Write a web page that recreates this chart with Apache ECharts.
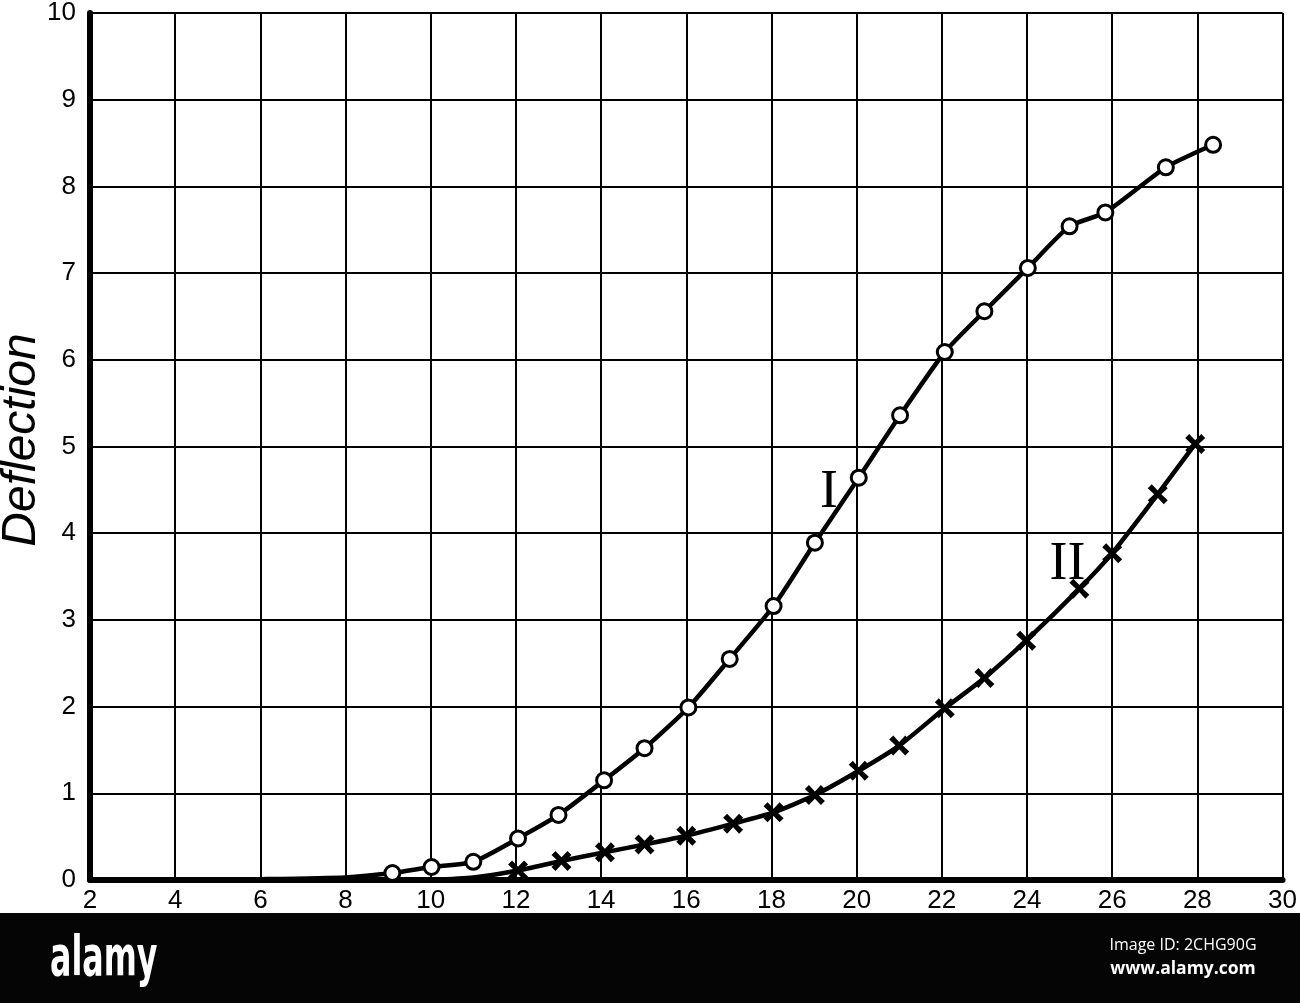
<!DOCTYPE html>
<html>
<head>
<meta charset="utf-8">
<script src="https://cdn.jsdelivr.net/npm/echarts@6/dist/echarts.min.js"></script>
<style>
html,body{margin:0;padding:0;background:#fff;}
#chart{width:1300px;height:1003px;}
</style>
</head>
<body>
<div id="chart"></div>
<script>
// Curve I (circles): [x, deflection]; lead-in points without markers
var leadI = [[2, 0.0], [4, 0.0], [6, 0.01], [8, 0.03]];
var curveI = [[9.1, 0.08], [10.02, 0.15], [11.0, 0.21], [12.05, 0.48], [13.0, 0.75], [14.07, 1.15],
  [15.02, 1.52], [16.05, 1.99], [17.02, 2.55], [18.05, 3.16], [19.02, 3.89], [20.05, 4.64],
  [21.02, 5.36], [22.07, 6.09], [23.0, 6.56], [24.02, 7.06], [25.0, 7.54], [25.84, 7.70],
  [27.26, 8.22], [28.37, 8.48]];
// Curve II (crosses)
var leadII = [[10, 0.0], [11, 0.03]];
var curveII = [[12.05, 0.11], [13.07, 0.22], [14.09, 0.32], [15.02, 0.41], [16.0, 0.51], [17.1, 0.65],
  [18.05, 0.78], [19.02, 0.98], [20.05, 1.26], [21.0, 1.55], [22.07, 1.98], [23.0, 2.33],
  [23.98, 2.76], [25.23, 3.36], [26.0, 3.77], [27.07, 4.45], [27.95, 5.03]];
var curveLabels = [{name: 'I', coord: [19.35, 4.47]}, {name: 'II', coord: [24.95, 3.64]}];
var yTitle = 'Deflection';

function buildData(lead, pts) {
  return lead.map(function (p) { return {value: p, symbol: 'none'}; })
    .concat(pts.map(function (p) { return {value: p}; }));
}

var crossPath = 'path://M2,0 L5,3.2 L8,0 L10,2 L6.8,5 L10,8 L8,10 L5,6.8 L2,10 L0,8 L3.2,5 L0,2 Z';

var chart = echarts.init(document.getElementById('chart'));
chart.setOption({
  animation: false,
  backgroundColor: '#ffffff',
  grid: {left: 90, top: 10, width: 1204, height: 870},
  xAxis: {
    type: 'value', min: 2, max: 30, interval: 2,
    axisLine: {show: true, lineStyle: {color: '#000', width: 6}},
    axisTick: {show: false},
    axisLabel: {color: '#000', fontSize: 26, fontFamily: 'Liberation Sans', margin: 8},
    splitLine: {show: true, lineStyle: {color: '#000', width: 2}}
  },
  yAxis: {
    type: 'value', min: 0, max: 10, interval: 1,
    axisLine: {show: true, lineStyle: {color: '#000', width: 6}},
    axisTick: {show: false},
    axisLabel: {color: '#000', fontSize: 26, fontFamily: 'Liberation Sans', margin: 14},
    splitLine: {show: true, lineStyle: {color: '#000', width: 2}}
  },
  series: [
    {
      type: 'line', name: 'I', smooth: 0.2,
      data: buildData(leadI, curveI),
      symbol: 'circle', symbolSize: 15,
      lineStyle: {color: '#000', width: 4.5},
      itemStyle: {color: '#fff', borderColor: '#000', borderWidth: 3},
      markPoint: {
        symbol: 'circle', symbolSize: 1,
        itemStyle: {color: 'rgba(0,0,0,0)'},
        label: {show: true, position: 'inside', formatter: '{b}', color: '#000',
          fontFamily: 'Liberation Serif', fontSize: 54},
        data: [curveLabels[0]]
      },
      z: 3
    },
    {
      type: 'line', name: 'II', smooth: 0.2,
      data: buildData(leadII, curveII),
      symbol: crossPath, symbolSize: 20,
      lineStyle: {color: '#000', width: 4.5},
      itemStyle: {color: '#000'},
      markPoint: {
        symbol: 'circle', symbolSize: 1,
        itemStyle: {color: 'rgba(0,0,0,0)'},
        label: {show: true, position: 'inside', formatter: '{b}', color: '#000',
          fontFamily: 'Liberation Serif', fontSize: 54},
        data: [curveLabels[1]]
      },
      z: 3
    }
  ],
  graphic: [
    {type: 'text', x: 22, y: 440, rotation: Math.PI / 2,
      style: {text: yTitle, fill: '#000', font: 'italic 48px "Liberation Sans"',
        textAlign: 'center', textVerticalAlign: 'middle'}},
    {type: 'rect', shape: {x: 0, y: 913, width: 1300, height: 90},
      style: {fill: '#050505'}, z: 100},
    {type: 'text', x: 50, y: 988, scaleX: 0.63, z: 101,
      style: {text: 'alamy', fill: '#fff', font: 'bold 56px "DejaVu Sans Condensed"',
        textAlign: 'left', textVerticalAlign: 'bottom'}},
    {type: 'text', x: 1183, y: 945, z: 101,
      style: {text: 'Image ID: 2CHG90G', fill: '#fff', font: '16px "Open Sans"',
        textAlign: 'center', textVerticalAlign: 'middle'}},
    {type: 'text', x: 1183, y: 969, z: 101,
      style: {text: 'www.alamy.com', fill: '#fff', font: 'bold 17.5px "Open Sans"',
        textAlign: 'center', textVerticalAlign: 'middle'}}
  ]
});
</script>
</body>
</html>
